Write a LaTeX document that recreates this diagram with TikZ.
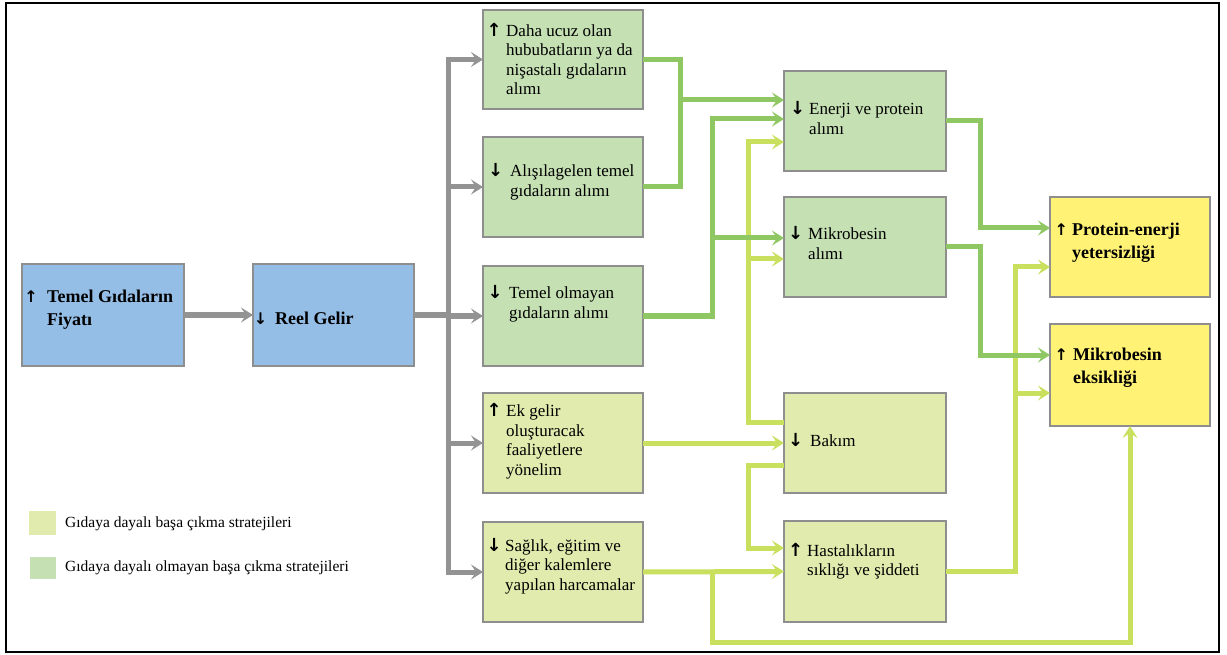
\documentclass[tikz,border=0pt]{standalone}
\usepackage{fontspec}
\setmainfont{Liberation Serif}
\newfontfamily\arrowfont{DejaVu Sans}
\usetikzlibrary{arrows.meta}
\definecolor{bluefill}{HTML}{95BEE6}
\definecolor{grfill}{HTML}{C5E0B3}
\definecolor{ylfill}{HTML}{E2EBAE}
\definecolor{yelfill}{HTML}{FFF275}
\definecolor{bordergray}{HTML}{8E8E8E}
\definecolor{arrgray}{HTML}{939393}
\definecolor{grline}{HTML}{8FC862}
\definecolor{ylline}{HTML}{C9DF5E}
\newcommand\Ar[2]{\makebox[#1pt][l]{\hspace*{4pt}\makebox[0pt][c]{\fontsize{18}{18}\arrowfont\bfseries #2}}}
\newcommand\Arb[2]{\makebox[#1pt][l]{\hspace*{4pt}\makebox[0pt][c]{\fontsize{16}{16}\arrowfont\bfseries #2}}}
\newcommand\Ind[1]{\hspace*{#1pt}}
\tikzset{
  box/.style={draw=bordergray, line width=1.5pt, inner sep=0pt, outer sep=0pt},
  txt/.style={anchor=west, align=left, inner sep=0pt, font=\fontsize{17}{19.5}\selectfont},
  btxt/.style={anchor=west, align=left, inner sep=0pt, font=\fontsize{18}{23}\selectfont\bfseries},
  tip/.style={-{Stealth[length=12pt,width=15pt,inset=5pt]}},
  gline/.style={draw=arrgray, line width=5pt},
  garr/.style={gline, tip},
  gnline/.style={draw=grline, line width=5pt},
  gnarr/.style={gnline, tip},
  ylline/.style={draw=ylline, line width=5pt},
  ylarr/.style={ylline, tip},
}
\begin{document}
\begin{tikzpicture}[x=1pt,y=-1pt]
\useasboundingbox (0,0) rectangle (1227,655);
\draw[line width=1.5pt] (6,3) rectangle (1219,652);

% boxes
\node[box, fill=bluefill, minimum width=162pt, minimum height=102pt] (tg) at (103,315) {};
\node[box, fill=bluefill, minimum width=161pt, minimum height=102pt] (rg) at (333.5,315) {};
\node[box, fill=grfill, minimum width=160pt, minimum height=99pt] (b1) at (563,59.5) {};
\node[box, fill=grfill, minimum width=160pt, minimum height=100pt] (b2) at (563,187) {};
\node[box, fill=grfill, minimum width=160pt, minimum height=100pt] (b3) at (563,316) {};
\node[box, fill=ylfill, minimum width=160pt, minimum height=100pt] (b4) at (563,443) {};
\node[box, fill=ylfill, minimum width=160pt, minimum height=100pt] (b5) at (563,572) {};
\node[box, fill=grfill, minimum width=162pt, minimum height=100pt] (en) at (865,121) {};
\node[box, fill=grfill, minimum width=162pt, minimum height=100pt] (mk) at (865,247) {};
\node[box, fill=ylfill, minimum width=162pt, minimum height=100pt] (bk) at (865,443) {};
\node[box, fill=ylfill, minimum width=162pt, minimum height=101pt] (hs) at (865,571.5) {};
\node[box, fill=yelfill, minimum width=160pt, minimum height=100pt] (pe) at (1130,247) {};
\node[box, fill=yelfill, minimum width=160pt, minimum height=102pt] (me) at (1130,375) {};

% texts
\node[btxt] (tgt) at (27,310) {\Arb{20}{↑}Temel Gıdaların\\\Ind{20}Fiyatı};
\node[btxt] (rgt) at (256.5,318) {\Arb{18.5}{↓}Reel Gelir};
\node[txt] (b1t) at (490,59) {\Ar{16}{↑}Daha ucuz olan\\\Ind{16}hububatların ya da\\\Ind{16}nişastalı gıdaların\\\Ind{16}alımı};
\node[txt] (b2t) at (491.5,182) {\Ar{18.5}{↓}Alışılagelen temel\\\Ind{18.5}gıdaların alımı};
\node[txt] (b3t) at (491,304) {\Ar{18}{↓}Temel olmayan\\\Ind{18}gıdaların alımı};
\node[txt] (b4t) at (490,441) {\Ar{16}{↑}Ek gelir\\\Ind{16}oluşturacak\\\Ind{16}faaliyetlere\\\Ind{16}yönelim};
\node[txt] (b5t) at (490,566) {\Ar{15}{↓}Sağlık, eğitim ve\\\Ind{15}diğer kalemlere\\\Ind{15}yapılan harcamalar};
\node[txt] (ent) at (793.5,118) {\Ar{15.5}{↓}Enerji ve protein\\\Ind{15.5}alımı};
\node[txt] (mkt) at (791.5,243) {\Ar{16.5}{↓}Mikrobesin\\\Ind{16.5}alımı};
\node[txt] (bkt) at (791.5,440) {\Ar{18.5}{↓}Bakım};
\node[txt] (hst) at (791.5,561) {\Ar{15.5}{↑}Hastalıkların\\\Ind{15.5}sıklığı ve şiddeti};
\node[btxt] (pet) at (1057,243) {\Arb{15}{↑}Protein-enerji\\\Ind{15}yetersizliği};
\node[btxt] (met) at (1057,368) {\Arb{16}{↑}Mikrobesin\\\Ind{16}eksikliği};

% legend
\node[fill=ylfill, minimum width=27pt, minimum height=24pt, inner sep=0pt] (lg1) at (42.5,523) {};
\node[fill=grfill, minimum width=26pt, minimum height=22pt, inner sep=0pt] (lg2) at (43,568) {};
\node[anchor=west, inner sep=0pt, font=\fontsize{15.5}{18}\selectfont] (lt1) at (65,524) {Gıdaya dayalı başa çıkma stratejileri};
\node[anchor=west, inner sep=0pt, font=\fontsize{15.5}{18}\selectfont] (lt2) at (65,568) {Gıdaya dayalı olmayan başa çıkma stratejileri};

% junction coordinates
\coordinate (tr) at (448,0);
\coordinate (j1) at (680,0);
\coordinate (j2) at (712,0);
\coordinate (j3) at (748,0);
\coordinate (j4) at (980,0);
\coordinate (j5) at (1015,0);

% yellow-green connectors
\draw[ylarr] (bk.west |- 0,422) -| (j3 |- 0,142) -- (en.west |- 0,142);
\draw[ylarr] (j3 |- 0,259) -- (mk.west |- 0,259);
\draw[ylarr] (b4.east) -- (bk.west);
\draw[ylarr] (bk.west |- 0,465) -| (j3 |- 0,548) -- (hs.west |- 0,548);
\draw[ylarr] (b5.east) -- (hs.west);
\draw[ylarr] (j2 |- b5.east) |- (me.south |- 0,642) -- (me.south);
\draw[ylarr] (hs.east) -| (j5 |- 0,267) -- (pe.west |- 0,267);
\draw[ylarr] (j5 |- 0,393) -- (me.west |- 0,393);

% green connectors
\draw[gnline] (b1.east) -| (j1 |- b2.east) -- (b2.east);
\draw[gnarr] (j1 |- 0,100) -- (en.west |- 0,100);
\draw[gnarr] (b3.east) -| (j2 |- 0,119) -- (en.west |- 0,119);
\draw[gnarr] (j2 |- 0,238) -- (mk.west |- 0,238);
\draw[gnarr] (en.east) -| (j4 |- 0,228) -- (pe.west |- 0,228);
\draw[gnarr] (mk.east) -| (j4 |- 0,355) -- (me.west |- 0,355);

% gray connectors
\draw[garr] (tg.east) -- (rg.west);
\draw[gline] (rg.east) -- (tr |- rg.east);
\draw[garr] (tr |- rg.east) |- (b1.west);
\draw[garr] (tr |- rg.east) |- (b5.west);
\draw[garr] (tr |- b2.west) -- (b2.west);
\draw[garr] (tr |- b3.west) -- (b3.west);
\draw[garr] (tr |- b4.west) -- (b4.west);
\end{tikzpicture}
\end{document}
